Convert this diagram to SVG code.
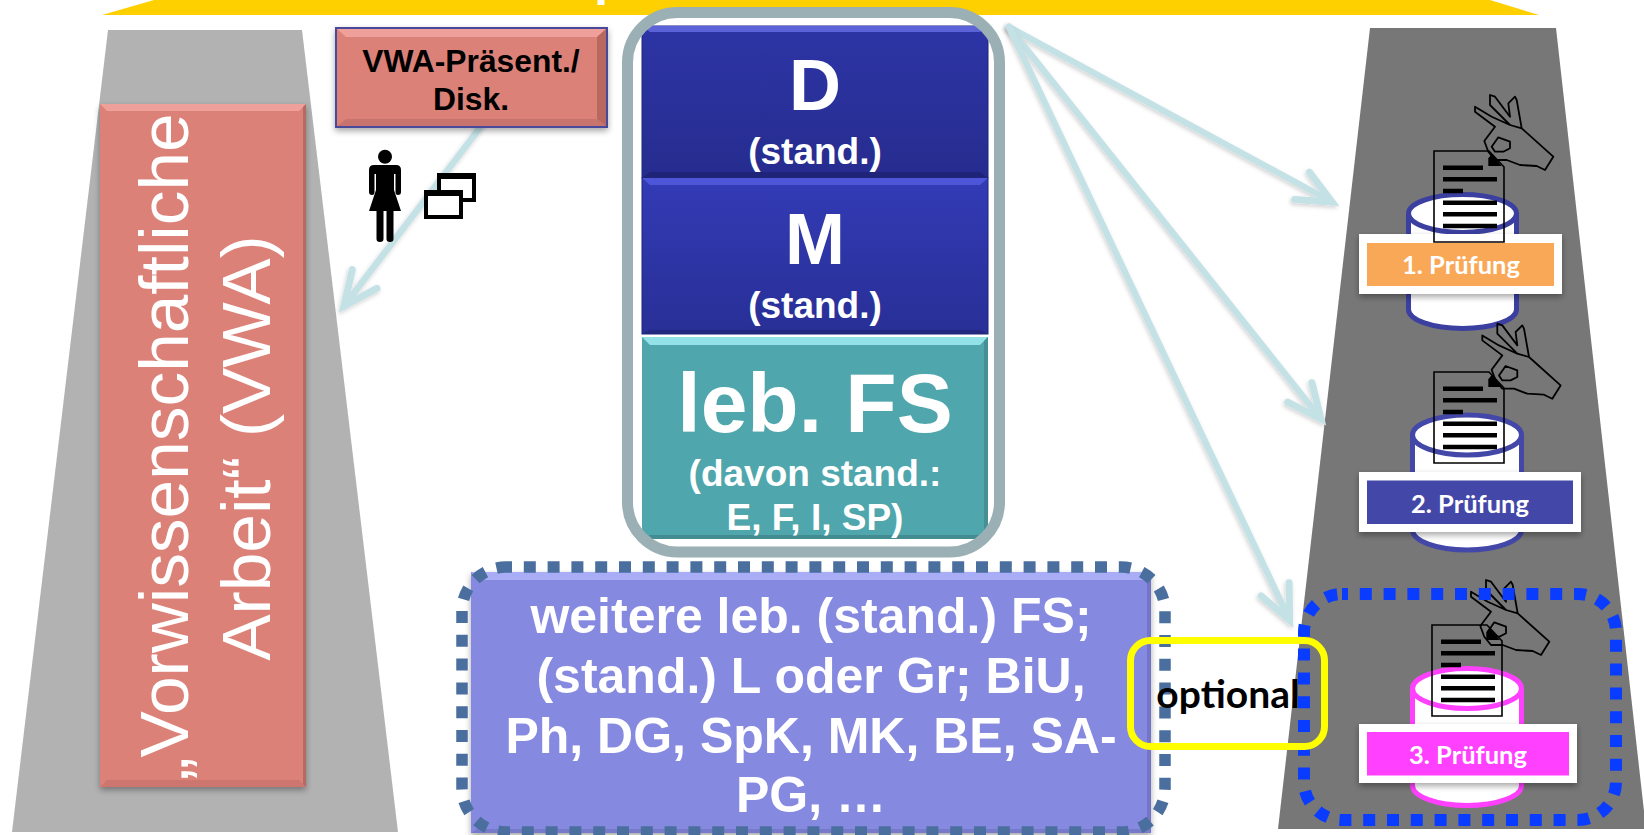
<svg xmlns="http://www.w3.org/2000/svg" xmlns:xlink="http://www.w3.org/1999/xlink" width="1644" height="835" viewBox="0 0 1644 835">
<style>
.sans{font-family:"Liberation Sans",Arial,sans-serif}
.b{font-weight:700}
.w{fill:#fff}
.m{text-anchor:middle}
.lab{font-family:Lato,"Noto Sans",sans-serif;font-weight:700;font-size:25.500px;fill:#fff;text-anchor:middle}
.conn{fill:none;stroke:#c4e2e6;stroke-width:6.500;stroke-linecap:round;marker-end:url(#head);filter:url(#ash)}
.cyl{fill:#fff;stroke-width:5}
.wbox{fill:#fff;filter:url(#sh)}
.ln{stroke:#000;stroke-width:4.500;fill:none}
</style>
<defs>
<filter id="sh" x="-10%" y="-10%" width="120%" height="125%"><feDropShadow dx="0" dy="3" stdDeviation="3" flood-color="#000" flood-opacity=".35"/></filter>
<filter id="ash" x="-10%" y="-10%" width="120%" height="120%"><feDropShadow dx="-1" dy="2" stdDeviation="2" flood-color="#000" flood-opacity=".18"/></filter>
<marker id="head" markerUnits="userSpaceOnUse" viewBox="-50 -25 58 50" markerWidth="58" markerHeight="50" refX="-8" refY="0" orient="auto" overflow="visible">
<path d="M-42,-15.500 L-8,0 L-42,15.500" fill="none" stroke="#c4e2e6" stroke-width="7" stroke-linecap="round" stroke-miterlimit="10"/>
</marker>
<linearGradient id="gd" x1="0" y1="0" x2="0" y2="1"><stop offset="0" stop-color="#2d35a6"/><stop offset="1" stop-color="#262c8e"/></linearGradient>
<linearGradient id="gm" x1="0" y1="0" x2="0" y2="1"><stop offset="0" stop-color="#333bb6"/><stop offset="1" stop-color="#282f96"/></linearGradient>
<g id="hand" fill="none" stroke="#000" stroke-width="1.800" stroke-linejoin="round">
<path d="M1553.300,156.700 L1545,170 L1536.700,166 L1520,165 L1506.700,160 L1495,160 L1488.300,151.700 L1484.300,141 L1495,126.700 L1475,111.700 L1475,106.700 L1491.700,116.700 L1510,125 L1490,105 L1490,95 L1495,96.700 L1510,116.700 L1508.300,103.300 L1515,96.700 L1516.700,100 L1521.700,128.300 Z M1510,125 L1521.700,128.300"/>
<path d="M1491.700,146.700 L1498.300,137.300 L1510,141.700 L1510,148.300 L1503.300,151.700 L1495,151.700 Z"/>
</g>
<g id="doc">
<path d="M1434,151 L1489,151 L1504,167 L1504,242 L1434,242 Z" fill="none" stroke="#000" stroke-width="1.600"/>
<path d="M1488.300,158.300 L1491.700,154 L1501.700,166 L1488.300,166 Z" fill="#000"/>
<path class="ln" d="M1443,167.700H1483M1443,179.300H1497M1443,191H1463M1443,202.700H1497M1443,214.300H1497M1443,226H1497"/>
</g>
</defs>

<rect width="1644" height="835" fill="#fff"/>

<g id="top-bar">
<polygon points="102,15 154,0 1490,0 1539,15" fill="#ffd000"/>
<text x="594" y="-5" class="sans b w" font-size="50">p</text>
</g>

<g id="column-left"><polygon points="108,30 302,30 398,832 12,832" fill="#b2b2b2"/></g>
<g id="column-right"><polygon points="1370,28 1556,28 1646,829 1278,829" fill="#777"/></g>

<g id="connectors">
<path class="conn" d="M553,32 L344,306"/>
<path class="conn" d="M1009,27 L1332,202"/>
<path class="conn" d="M1009,27 L1321,419"/>
<path class="conn" d="M1009,27 L1289.600,620"/>
</g>

<g id="node-vwa">
<rect x="100" y="104" width="206" height="683" fill="#dc8178" filter="url(#sh)"/>
<polygon points="100,104 306,104 299,111 107,111" fill="#f0a09a"/>
<polygon points="100,787 306,787 299,780 107,780" fill="#cc766f"/>
<polygon points="306,104 303,107 303,784 306,787" fill="#b56a64"/>
<text transform="translate(188,447) rotate(-90)" class="sans w m" font-size="69.400">„Vorwissenschaftliche</text>
<text transform="translate(270,448) rotate(-90)" class="sans w m" font-size="69.400">Arbeit“ (VWA)</text>
</g>

<g id="node-praesent">
<rect x="336" y="28" width="271" height="99" fill="#dc8178" stroke="#4a4a9c" stroke-width="2" filter="url(#sh)"/>
<polygon points="337,29 606,29 597,37 346,37" fill="#f0a09a"/>
<polygon points="337,126 606,126 597,119 346,119" fill="#c8746e"/>
<polygon points="606,29 597,37 597,119 606,126" fill="#b8695f"/>
<text x="471" y="72" class="sans b m" font-size="31.800" fill="#000">VWA-Präsent./</text>
<text x="471" y="110" class="sans b m" font-size="31.800" fill="#000">Disk.</text>
</g>

<g id="icon-person">
<circle cx="385" cy="156.700" r="7" fill="#000"/>
<path d="M374,165 H396 Q401,165 401,170 V192 Q401,195 398,195 Q395.500,195 395.500,192 V174 H394 V190 L401,211 H393.500 V239 Q393.500,242 390,242 Q386.500,242 386.500,239 V211 H383.500 V239 Q383.500,242 380,242 Q376.500,242 376.500,239 V211 H369 L376,190 V174 H374.500 V192 Q374.500,195 372,195 Q369,195 369,192 V170 Q369,165 374,165 Z" fill="#000"/>
</g>
<g id="icon-windows" fill="#fff" stroke="#000" stroke-width="4">
<rect x="439" y="175" width="35" height="25"/>
<path d="M437,176 H476" fill="none" stroke-width="6"/>
<rect x="426" y="192" width="35" height="25"/>
<path d="M424,193 H463" fill="none" stroke-width="6"/>
</g>

<g id="node-d">
<rect x="642" y="26" width="346" height="152" fill="url(#gd)" stroke="#1f2478" stroke-width="1"/>
<polygon points="642,26 988,26 980,32 650,32" fill="#5c63d8"/>
<polygon points="642,178 988,178 980,172 650,172" fill="#1f2478"/>
<text x="815" y="110" class="sans b w m" font-size="72">D</text>
<text x="815" y="164" class="sans b w m" font-size="37">(stand.)</text>
</g>
<g id="node-m">
<rect x="642" y="178" width="346" height="156" fill="url(#gm)" stroke="#1f2478" stroke-width="1"/>
<polygon points="642,178 988,178 980,185 650,185" fill="#4d55d8"/>
<polygon points="642,334 988,334 980,330 650,330" fill="#22287f"/>
<text x="815" y="264" class="sans b w m" font-size="72">M</text>
<text x="815" y="318" class="sans b w m" font-size="37">(stand.)</text>
</g>
<g id="node-fs">
<rect x="642" y="337" width="346" height="202" fill="#4fa6ac"/>
<polygon points="642,337 988,337 980,345 650,345" fill="#92e2e8"/>
<polygon points="642,539 988,539 980,535 650,535" fill="#438d92"/>
<polygon points="988,337 984,341 984,535 988,539" fill="#468f95"/>
<text x="815" y="432" class="sans b w m" font-size="84">leb. FS</text>
<text x="815" y="486" class="sans b w m" font-size="37">(davon stand.:</text>
<text x="815" y="530" class="sans b w m" font-size="37">E, F, I, SP)</text>
</g>
<g id="frame-core"><rect x="627.500" y="12.500" width="372" height="539.500" rx="50" ry="50" fill="none" stroke="#9ab0b4" stroke-width="11"/></g>

<g id="node-weitere">
<rect x="471" y="572" width="680" height="261" fill="#8689e0" filter="url(#sh)"/>
<polygon points="471,572 1151,572 1143,580 479,580" fill="#a9adf6"/>
<polygon points="471,833 1151,833 1145,829 477,829" fill="#777ac9"/>
<polygon points="1151,572 1147,576 1147,829 1151,833" fill="#7376c6"/>
<text x="811" y="633" class="sans b w m" font-size="50">weitere leb. (stand.) FS;</text>
<text x="811" y="693" class="sans b w m" font-size="50">(stand.) L oder Gr; BiU,</text>
<text x="811" y="753" class="sans b w m" font-size="50">Ph, DG, SpK, MK, BE, SA-</text>
<text x="811" y="812" class="sans b w m" font-size="50">PG, …</text>
<rect x="462" y="567" width="703" height="265" rx="44" ry="44" fill="none" stroke="#4a6f9f" stroke-width="11.500" stroke-dasharray="12 11.800" stroke-dashoffset="6"/>
</g>

<g id="node-pruefung-1">
<path class="cyl" stroke="#3b3f9f" d="M1408.500,213.500 V309.500 A54,19 0 0 0 1516.500,309.500 V213.500"/>
<ellipse class="cyl" stroke="#3b3f9f" cx="1462.500" cy="213.500" rx="54" ry="19"/>
<rect class="wbox" x="1359" y="234" width="203" height="60"/>
<rect x="1367" y="243" width="187" height="43" fill="#f9a857"/>
<text x="1461" y="274" class="lab">1. Prüfung</text>
<use xlink:href="#doc" href="#doc"/>
<use xlink:href="#hand" href="#hand"/>
</g>

<g id="node-pruefung-2">
<path class="cyl" stroke="#4347a8" d="M1412.500,435 V530 A54.500,20 0 0 0 1521.500,530 V435"/>
<ellipse class="cyl" stroke="#4347a8" cx="1467" cy="435" rx="54.500" ry="20"/>
<rect class="wbox" x="1359" y="472" width="222" height="60"/>
<rect x="1367" y="480.500" width="206" height="43.500" fill="#4347a8"/>
<text x="1470" y="513" class="lab">2. Prüfung</text>
<use xlink:href="#doc" href="#doc" transform="translate(0,221)"/>
<use xlink:href="#hand" href="#hand" transform="translate(7.300,228.700)"/>
</g>

<g id="node-pruefung-3">
<path class="cyl" stroke="#ff40ff" d="M1412.500,688.500 V785.500 A54.500,20 0 0 0 1521.500,785.500 V688.500"/>
<ellipse class="cyl" stroke="#ff40ff" cx="1467" cy="688.500" rx="54.500" ry="20"/>
<rect class="wbox" x="1359" y="724" width="218" height="59"/>
<rect x="1367" y="732" width="202" height="43.500" fill="#ff40ff"/>
<text x="1468" y="764" class="lab">3. Prüfung</text>
<use xlink:href="#doc" href="#doc" transform="translate(-2,474)"/>
<use xlink:href="#hand" href="#hand" transform="translate(-4,485)"/>
</g>

<g id="frame-optional-exam"><rect x="1304" y="594" width="312" height="226" rx="38" ry="38" fill="none" stroke="#0a3cff" stroke-width="12" stroke-dasharray="12 11.800" stroke-dashoffset="6"/></g>

<g id="node-optional">
<rect x="1130.500" y="640.500" width="194" height="106" rx="20" ry="20" fill="none" stroke="#ffff00" stroke-width="7"/>
<text x="1228" y="708" font-family="Lato,'Noto Sans',sans-serif" font-weight="700" font-size="39" fill="#000" text-anchor="middle">optional</text>
</g>
</svg>
